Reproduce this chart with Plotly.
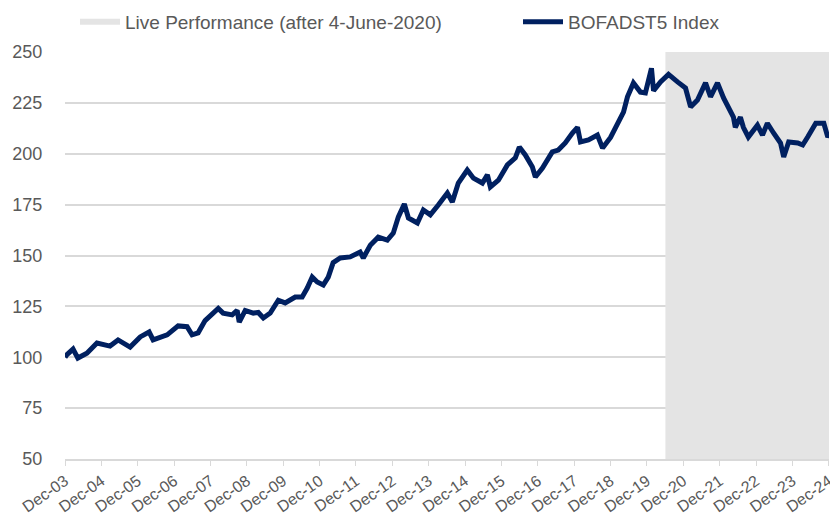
import plotly.graph_objects as go

# Index levels
dates = [
    "2003-12-01", "2003-12-15", "2004-02-20", "2004-04-08", "2004-07-08", "2004-10-17",
    "2005-02-25", "2005-05-17", "2005-09-15", "2005-12-25", "2006-03-25", "2006-05-04",
    "2006-09-22", "2007-01-10", "2007-04-10", "2007-05-30", "2007-07-30", "2007-10-08",
    "2008-02-17", "2008-04-06", "2008-07-06", "2008-08-25", "2008-09-15", "2008-11-14",
    "2009-02-03", "2009-03-25", "2009-05-15", "2009-07-23", "2009-10-12", "2009-12-20",
    "2010-03-31", "2010-06-09", "2010-07-30", "2010-09-18", "2010-11-07", "2011-01-07",
    "2011-02-26", "2011-04-16", "2011-06-26", "2011-10-04", "2012-01-12", "2012-02-13",
    "2012-04-23", "2012-07-12", "2012-10-11", "2012-12-10", "2013-01-30", "2013-03-31",
    "2013-05-11", "2013-08-09", "2013-10-08", "2013-12-17", "2014-03-07", "2014-06-06",
    "2014-07-26", "2014-09-24", "2014-12-23", "2015-02-23", "2015-05-24", "2015-07-13",
    "2015-08-12", "2015-11-01", "2016-01-30", "2016-04-19", "2016-05-29", "2016-07-28",
    "2016-10-07", "2016-11-06", "2017-01-16", "2017-04-25", "2017-06-24", "2017-09-02",
    "2017-11-13", "2018-01-03", "2018-02-02", "2018-04-23", "2018-07-22", "2018-09-12",
    "2018-12-01", "2019-02-20", "2019-04-10", "2019-05-20", "2019-07-19", "2019-09-27",
    "2019-11-16", "2020-01-16", "2020-02-06", "2020-04-16", "2020-07-05", "2020-10-04",
    "2020-12-23", "2021-02-12", "2021-04-22", "2021-07-12", "2021-08-31", "2021-11-09",
    "2022-01-09", "2022-04-18", "2022-05-07", "2022-06-27", "2022-07-27", "2022-09-15",
    "2022-12-15", "2023-02-04", "2023-03-25", "2023-05-26", "2023-08-04", "2023-09-05",
    "2023-10-25", "2024-01-24", "2024-03-14", "2024-05-03", "2024-07-23", "2024-10-12",
    "2024-11-21", "2024-12-01",
]
index_values = [
    100.0, 101.0, 104.0, 99.6, 102.0, 107.0,
    105.5, 108.5, 105.0, 110.0, 112.4, 108.5,
    111.0, 115.4, 115.0, 111.0, 112.0, 118.0,
    124.0, 121.7, 120.8, 123.0, 117.3, 123.0,
    121.7, 122.0, 119.3, 121.7, 128.0, 126.7,
    129.6, 129.6, 134.0, 139.4, 137.0, 135.5,
    139.4, 146.5, 148.8, 149.3, 151.7, 148.8,
    155.0, 159.0, 157.6, 161.0, 169.0, 175.3,
    168.4, 166.0, 172.4, 170.0, 174.8, 180.7,
    176.3, 185.6, 192.0, 188.0, 185.6, 189.6,
    183.7, 187.0, 194.5, 198.0, 203.3, 199.4,
    193.5, 188.6, 193.0, 200.9, 201.8, 205.3,
    210.2, 213.0, 205.8, 206.8, 209.2, 202.8,
    208.0, 216.6, 220.5, 228.0, 234.8, 230.3,
    229.9, 242.0, 231.0, 235.3, 239.0, 235.3,
    232.3, 223.0, 226.4, 234.8, 228.0, 234.8,
    227.4, 218.0, 213.0, 218.0, 213.0, 208.2,
    214.0, 209.2, 215.0, 210.2, 205.3, 198.4,
    205.8, 205.3, 204.3, 208.2, 215.0, 215.0,
    208.2, 209.0,
]

live_start = "2020-06-04"
axis_start = "2003-12-01"
axis_end = "2024-12-03"

tick_dates = ["%d-12-01" % y for y in range(2003, 2025)]
tick_labels = ["Dec-%02d" % (y % 100) for y in range(2003, 2025)]
y_ticks = [50, 75, 100, 125, 150, 175, 200, 225, 250]

GREY_TXT = "#595959"
FONT = "Liberation Sans, Arial, sans-serif"

fig = go.Figure()
fig.add_trace(go.Scatter(
    x=[live_start, axis_end], y=[y_ticks[-1], y_ticks[-1]],
    fill="tozeroy", mode="none", fillcolor="#e4e4e4",
    name="Live Performance (after 4-June-2020)", hoverinfo="skip",
    legend="legend",
))
fig.add_trace(go.Scatter(
    x=dates, y=index_values, mode="lines",
    line=dict(color="#002060", width=5, shape="linear"),
    name="BOFADST5 Index", legend="legend2",
))

legend_common = dict(
    orientation="h", xanchor="left",
    yref="container", y=1 - 22 / 521, yanchor="middle",
    font=dict(size=19, color=GREY_TXT), itemwidth=40,
    bgcolor="rgba(0,0,0,0)",
)

fig.update_layout(
    width=830, height=521, autosize=False,
    margin=dict(l=65, r=1, t=52, b=62, autoexpand=False),
    plot_bgcolor="white", paper_bgcolor="white",
    font=dict(family=FONT, color=GREY_TXT, size=16),
    showlegend=True,
    legend=dict(xref="container", x=75 / 830, **legend_common),
    legend2=dict(xref="container", x=518 / 830, **legend_common),
    xaxis=dict(
        type="date", range=[axis_start, axis_end], automargin=False,
        tickmode="array", tickvals=tick_dates, ticktext=tick_labels,
        tickangle=-35, ticklabeloverflow="allow",
        showgrid=False, showline=True, linecolor="#d9d9d9", linewidth=1.5,
        ticks="outside", ticklen=5, tickcolor="#d9d9d9", tickwidth=1,
        tickfont=dict(size=16, color=GREY_TXT), zeroline=False,
    ),
    yaxis=dict(
        range=[50, 250], tickvals=y_ticks, automargin=False,
        showgrid=True, gridcolor="#d9d9d9", gridwidth=1.5,
        showline=False, zeroline=False,
        ticks="outside", ticklen=18, tickcolor="rgba(0,0,0,0)",
        tickfont=dict(size=18, color=GREY_TXT),
    ),
)

fig.write_html(
    "out.html",
    config={"responsive": False, "displayModeBar": False},
    post_script="document.body.style.margin='0';document.body.style.overflow='hidden';",
)
